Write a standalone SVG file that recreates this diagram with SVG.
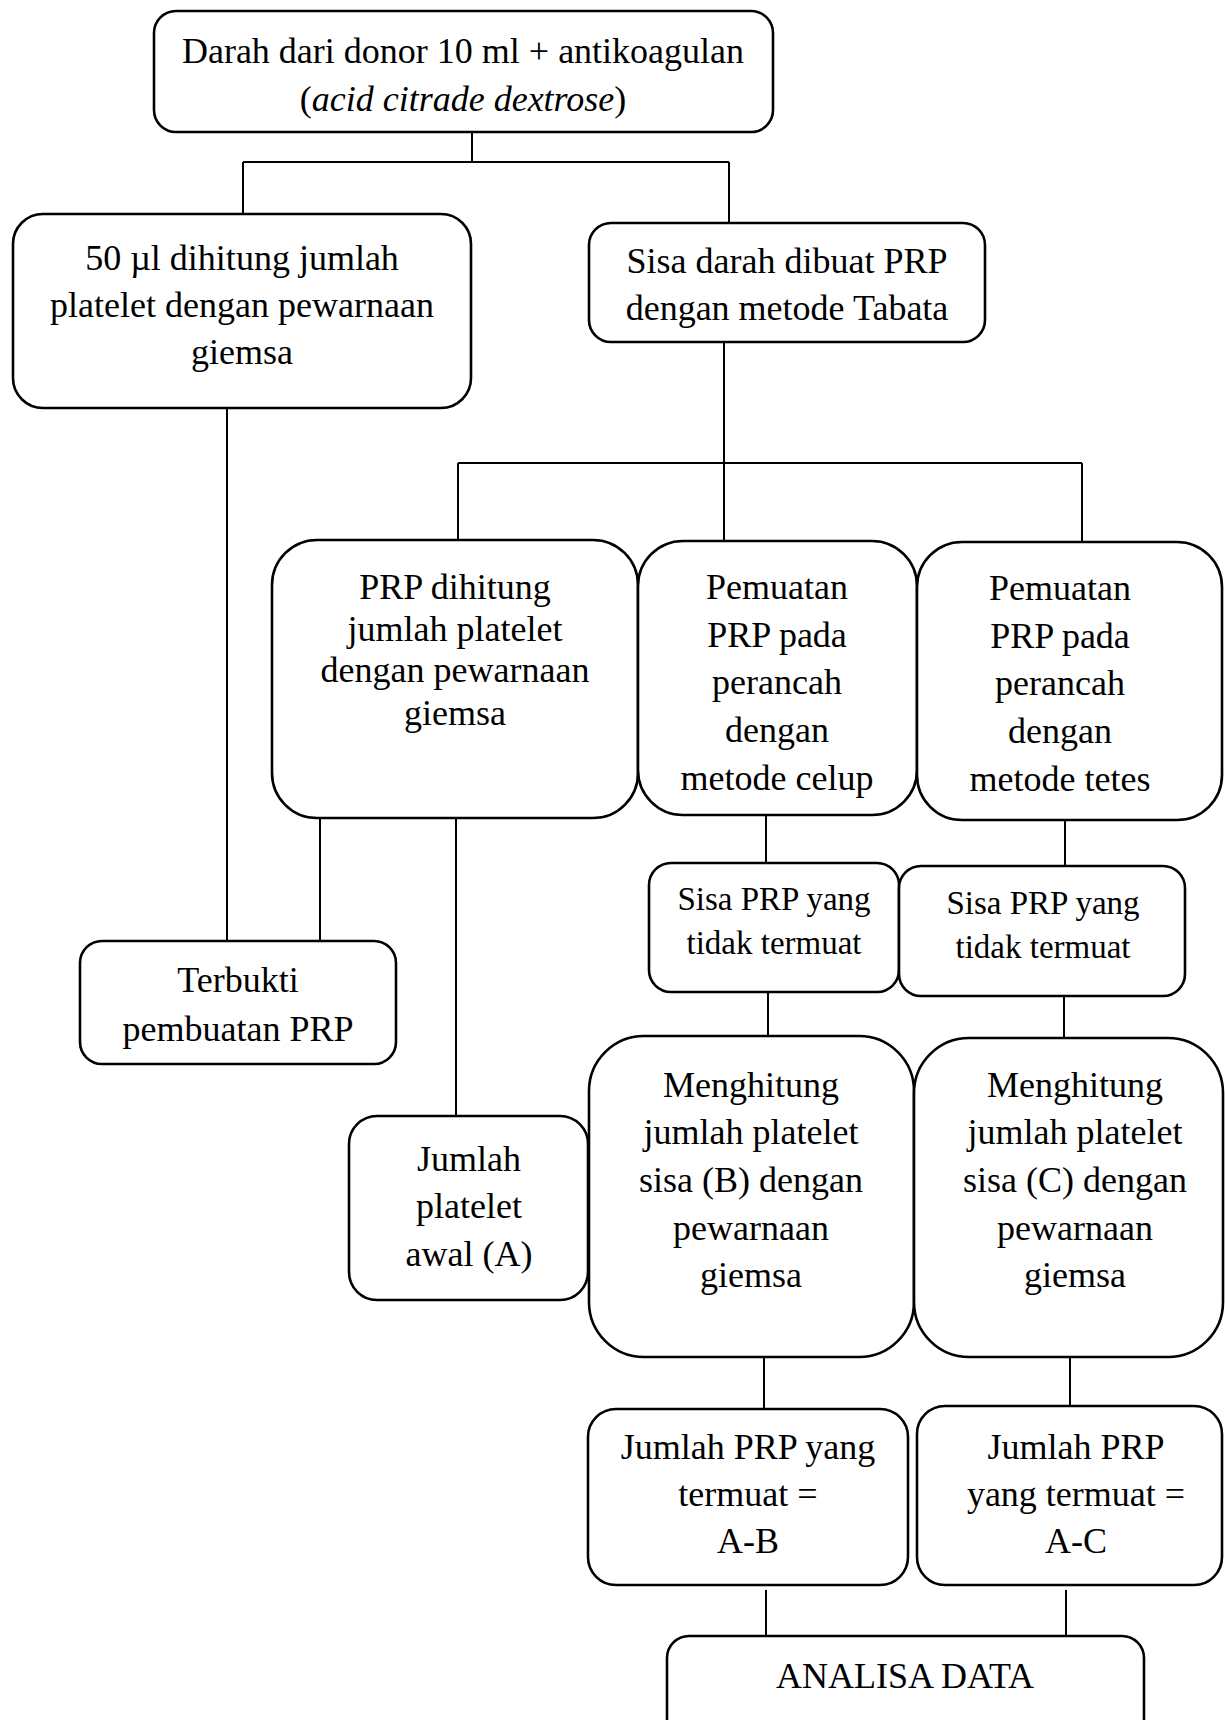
<svg xmlns="http://www.w3.org/2000/svg" width="1225" height="1720" viewBox="0 0 1225 1720">
<style>
.box{fill:#fff;stroke:#000;stroke-width:2.6}
.c{fill:none;stroke:#000;stroke-width:2}
text{font-family:"Liberation Serif","Times New Roman",serif;font-size:36px;fill:#000;text-anchor:middle}
.s{font-size:33px}
</style>
<rect width="1225" height="1720" fill="#fff"/>
<g id="connectors">
<path class="c" d="M472 132V162M243 162H729M243 162V214M729 162V223"/>
<path class="c" d="M227 408V941"/>
<path class="c" d="M724 342V541M458 463H1082M458 463V540M1082 463V542"/>
<path class="c" d="M320 818V941M456 818V1116"/>
<path class="c" d="M766 815V863M1065 820V866"/>
<path class="c" d="M768 992V1036M1064 996V1038"/>
<path class="c" d="M764 1357V1409M1070 1357V1406"/>
<path class="c" d="M766 1590V1636M1066 1590V1636"/>
</g>
<g id="n1"><rect class="box" x="154" y="11" width="619" height="121" rx="22"/>
<text x="463" y="63">Darah dari donor 10 ml + antikoagulan</text>
<text x="463" y="111">(<tspan font-style="italic">acid citrade dextrose</tspan>)</text></g>
<g id="n2"><rect class="box" x="13" y="214" width="458" height="194" rx="30"/>
<text x="242" y="270">50 µl dihitung jumlah</text>
<text x="242" y="317">platelet dengan pewarnaan</text>
<text x="242" y="364">giemsa</text></g>
<g id="n3"><rect class="box" x="589" y="223" width="396" height="119" rx="22"/>
<text x="787" y="273">Sisa darah dibuat PRP</text>
<text x="787" y="320">dengan metode Tabata</text></g>
<g id="n4"><rect class="box" x="272" y="540" width="366" height="278" rx="45"/>
<text x="455" y="599">PRP dihitung</text>
<text x="455" y="641">jumlah platelet</text>
<text x="455" y="682">dengan pewarnaan</text>
<text x="455" y="725">giemsa</text></g>
<g id="n5"><rect class="box" x="638" y="541" width="279" height="274" rx="45"/>
<text x="777" y="599">Pemuatan</text>
<text x="777" y="647">PRP pada</text>
<text x="777" y="694">perancah</text>
<text x="777" y="742">dengan</text>
<text x="777" y="790">metode celup</text></g>
<g id="n6"><rect class="box" x="917" y="542" width="305" height="278" rx="45"/>
<text x="1060" y="600">Pemuatan</text>
<text x="1060" y="648">PRP pada</text>
<text x="1060" y="695">perancah</text>
<text x="1060" y="743">dengan</text>
<text x="1060" y="791">metode tetes</text></g>
<g id="n7"><rect class="box" x="80" y="941" width="316" height="123" rx="22"/>
<text x="238" y="992">Terbukti</text>
<text x="238" y="1041">pembuatan PRP</text></g>
<g id="n8"><rect class="box" x="349" y="1116" width="239" height="184" rx="28"/>
<text x="469" y="1171">Jumlah</text>
<text x="469" y="1218">platelet</text>
<text x="469" y="1266">awal (A)</text></g>
<g id="n9"><rect class="box" x="649" y="863" width="250" height="129" rx="22"/>
<text class="s" x="774" y="910">Sisa PRP yang</text>
<text class="s" x="774" y="954">tidak termuat</text></g>
<g id="n10"><rect class="box" x="899" y="866" width="286" height="130" rx="22"/>
<text class="s" x="1043" y="914">Sisa PRP yang</text>
<text class="s" x="1043" y="958">tidak termuat</text></g>
<g id="n11"><rect class="box" x="589" y="1036" width="325" height="321" rx="55"/>
<text x="751" y="1097">Menghitung</text>
<text x="751" y="1144">jumlah platelet</text>
<text x="751" y="1192">sisa (B) dengan</text>
<text x="751" y="1240">pewarnaan</text>
<text x="751" y="1287">giemsa</text></g>
<g id="n12"><rect class="box" x="914" y="1038" width="309" height="319" rx="55"/>
<text x="1075" y="1097">Menghitung</text>
<text x="1075" y="1144">jumlah platelet</text>
<text x="1075" y="1192">sisa (C) dengan</text>
<text x="1075" y="1240">pewarnaan</text>
<text x="1075" y="1287">giemsa</text></g>
<g id="n13"><rect class="box" x="588" y="1409" width="320" height="176" rx="28"/>
<text x="748" y="1459">Jumlah PRP yang</text>
<text x="748" y="1506">termuat =</text>
<text x="748" y="1553">A-B</text></g>
<g id="n14"><rect class="box" x="917" y="1406" width="305" height="179" rx="28"/>
<text x="1076" y="1459">Jumlah PRP</text>
<text x="1076" y="1506">yang termuat =</text>
<text x="1076" y="1553">A-C</text></g>
<g id="n15"><rect class="box" x="667" y="1636" width="477" height="110" rx="22"/>
<text x="905" y="1688">ANALISA DATA</text></g>
</svg>
